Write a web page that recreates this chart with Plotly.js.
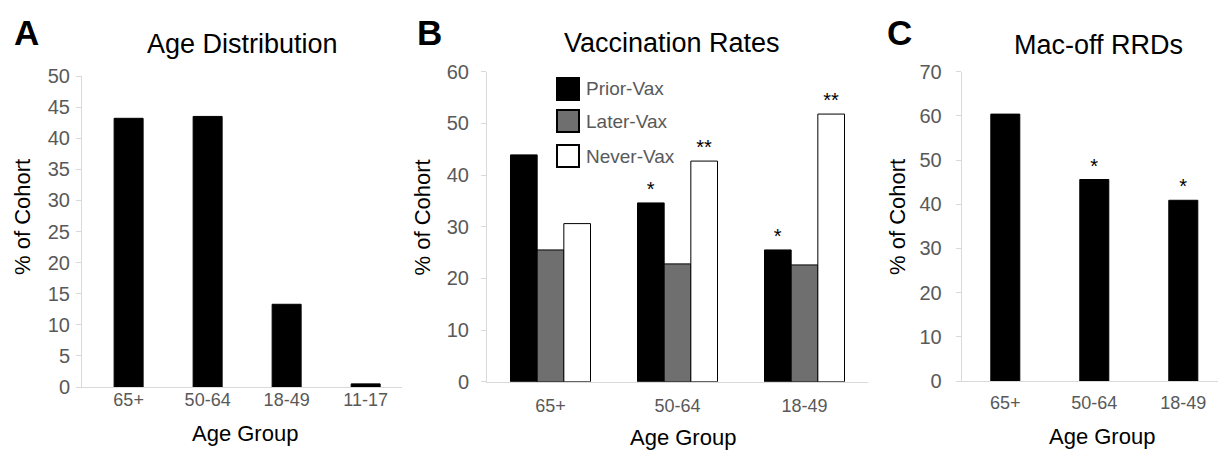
<!DOCTYPE html>
<html>
<head>
<meta charset="utf-8">
<script src="https://cdn.plot.ly/plotly-3.0.1.min.js"></script>
<style>html,body{margin:0;padding:0;background:#fff;}#chart{width:1218px;height:451px;}</style>
</head>
<body>
<div id="chart"></div>
<script>
// ---- data ----
const ageGroupsA = ['65+', '50-64', '18-49', '11-17'];
const ageDistribution = [43.2, 43.5, 13.3, 0.5];

const ageGroupsBC = ['65+', '50-64', '18-49'];
const seriesNames = ['Prior-Vax', 'Later-Vax', 'Never-Vax'];
const priorVax = [43.9, 34.6, 25.5];
const laterVax = [25.5, 22.8, 22.6];
const neverVax = [30.6, 42.7, 51.8];
const priorSig = ['', '*', '*'];
const laterSig = ['', '', ''];
const neverSig = ['', '**', '**'];

const macOffRRD = [60.4, 45.6, 40.9];
const macOffSig = ['', '*', '*'];

const panelLetters = ['A', 'B', 'C'];
const panelTitles = ['Age Distribution', 'Vaccination Rates', 'Mac-off RRDs'];
const xTitle = 'Age Group';
const yTitle = '% of Cohort';

// ---- styling ----
const W = 1218, H = 451;
const FONT = 'Liberation Sans, Arial, sans-serif';
const seriesColors = ['#000000', '#6f6f6f', '#ffffff'];
const tickGrey = '#595959';
const axisGrey = '#d9d9d9';
const px = v => v / W;
const py = v => 1 - v / H;

const barLine = {color: '#000', width: 1};
const sigFont = {family: FONT, size: 20, color: '#000'};

const traces = [
  {type: 'bar', x: ageGroupsA, y: ageDistribution, xaxis: 'x', yaxis: 'y', width: 0.367,
   marker: {color: seriesColors[0], line: barLine}, showlegend: false, hoverinfo: 'x+y'},
  {type: 'bar', name: seriesNames[0], x: ageGroupsBC, y: priorVax, text: priorSig, xaxis: 'x2', yaxis: 'y2',
   marker: {color: seriesColors[0], line: barLine}, showlegend: false},
  {type: 'bar', name: seriesNames[1], x: ageGroupsBC, y: laterVax, text: laterSig, xaxis: 'x2', yaxis: 'y2',
   marker: {color: seriesColors[1], line: barLine}, showlegend: false},
  {type: 'bar', name: seriesNames[2], x: ageGroupsBC, y: neverVax, text: neverSig, xaxis: 'x2', yaxis: 'y2',
   marker: {color: seriesColors[2], line: barLine}, showlegend: false},
  {type: 'bar', x: ageGroupsBC, y: macOffRRD, text: macOffSig, xaxis: 'x3', yaxis: 'y3', width: 0.326,
   marker: {color: seriesColors[0], line: barLine}, showlegend: false}
];
traces.forEach(t => {
  if (t.text) {
    t.textposition = 'outside';
    t.textfont = sigFont;
    t.constraintext = 'none';
    t.cliponaxis = false;
  }
});

function xAxis(anchor, domain, range, standoff) {
  return {
    anchor: anchor,
    domain: domain, range: range, type: 'category',
    showline: true, linecolor: axisGrey, linewidth: 1,
    showgrid: false, zeroline: false, ticks: '',
    ticklabelstandoff: standoff,
    tickfont: {family: FONT, size: 18, color: tickGrey},
    fixedrange: true
  };
}
function yAxis(anchor, domain, range, dtick, standoff) {
  return {
    anchor: anchor,
    domain: domain, range: range, dtick: dtick,
    showline: true, linecolor: axisGrey, linewidth: 1,
    showgrid: false, zeroline: false,
    ticks: 'outside', ticklen: 5, tickcolor: axisGrey, tickwidth: 1,
    ticklabelstandoff: standoff,
    tickfont: {family: FONT, size: 20, color: tickGrey},
    fixedrange: true
  };
}

const layout = {
  width: W, height: H,
  margin: {l: 0, r: 0, t: 0, b: 0},
  paper_bgcolor: '#fff', plot_bgcolor: 'rgba(0,0,0,0)',
  font: {family: FONT},
  barmode: 'group', bargap: 0.37, bargroupgap: 0,
  showlegend: false,
  xaxis: xAxis('y', [px(82), px(402)], [-0.59, 3.46], -4),
  yaxis: yAxis('x', [1 - 387 / H, 1 - 76 / H], [0, 50], 5, 2),
  xaxis2: xAxis('y2', [px(487), px(868)], [-0.5, 2.5], 8),
  yaxis2: yAxis('x2', [1 - 381.7 / H, 1 - 71.7 / H], [0, 60], 10, 8),
  xaxis3: xAxis('y3', [px(961.7), 1], [-0.49, 2.39], 5),
  yaxis3: yAxis('x3', [1 - 381 / H, 1 - 71.7 / H], [0, 70], 10, 10),
  annotations: [],
  shapes: []
};

// panel letters, titles and axis titles
const letterX = [12, 415, 885];
const titleX = [242, 672, 1098];
const titleY = [44, 43.5, 45];
const yTitlePos = [[22, 217], [422, 217.5], [897, 217]];
const xTitlePos = [[245, 433], [683, 437], [1102, 436.5]];
panelLetters.forEach((L, i) => {
  layout.annotations.push({text: '<b>' + L + '</b>', xref: 'paper', yref: 'paper',
    x: px(letterX[i]), y: py(32.5), xanchor: 'left', yanchor: 'middle', showarrow: false,
    font: {family: FONT, size: 35, color: '#000'}});
  layout.annotations.push({text: panelTitles[i], xref: 'paper', yref: 'paper',
    x: px(titleX[i]), y: py(titleY[i]), xanchor: 'center', yanchor: 'middle', showarrow: false,
    font: {family: FONT, size: 27, color: '#000'}});
  layout.annotations.push({text: yTitle, xref: 'paper', yref: 'paper', textangle: -90,
    x: px(yTitlePos[i][0]), y: py(yTitlePos[i][1]), xanchor: 'center', yanchor: 'middle', showarrow: false,
    font: {family: FONT, size: 22, color: '#000'}});
  layout.annotations.push({text: xTitle, xref: 'paper', yref: 'paper',
    x: px(xTitlePos[i][0]), y: py(xTitlePos[i][1]), xanchor: 'center', yanchor: 'middle', showarrow: false,
    font: {family: FONT, size: 22, color: '#000'}});
});

// legend for panel B (swatches + labels)
const legTop = [78, 110, 145];
seriesNames.forEach((name, i) => {
  layout.shapes.push({type: 'rect', xref: 'paper', yref: 'paper',
    x0: px(557), x1: px(579), y0: py(legTop[i] + 22), y1: py(legTop[i]),
    fillcolor: seriesColors[i], line: {color: '#000', width: 2}});
  layout.annotations.push({text: name, xref: 'paper', yref: 'paper',
    x: px(584), y: py(legTop[i] + 11), xanchor: 'left', yanchor: 'middle', showarrow: false,
    font: {family: FONT, size: 19, color: tickGrey}});
});

Plotly.newPlot('chart', traces, layout, {displayModeBar: false, staticPlot: true});
</script>
</body>
</html>
